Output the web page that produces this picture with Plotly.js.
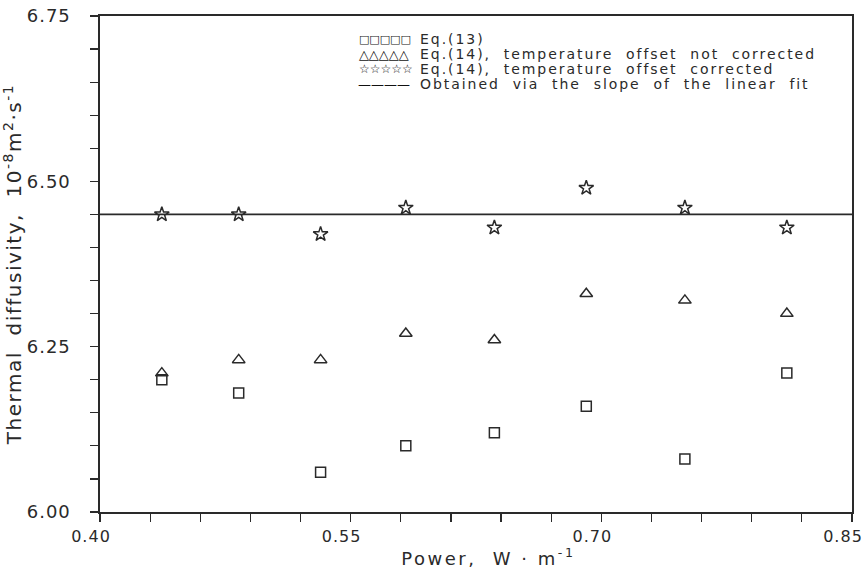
<!DOCTYPE html>
<html>
<head>
<meta charset="utf-8">
<script src="https://cdn.plot.ly/plotly-3.0.1.min.js"></script>
<style>
html,body{margin:0;padding:0;background:#fff;}
#chart{width:864px;height:569px;}
.xtick text, .ytick text { letter-spacing: 1px; }
.xtitle { letter-spacing: 2.5px; }
.ytitle { letter-spacing: 1.5px; }
.annotation-text { letter-spacing: 1.95px; }
g.annotation[data-index="0"] .annotation-text,
g.annotation[data-index="1"] .annotation-text,
g.annotation[data-index="2"] .annotation-text,
g.annotation[data-index="3"] .annotation-text { letter-spacing: 0px; }
</style>
</head>
<body>
<div id="chart"></div>
<script>
const power = [0.437, 0.483, 0.532, 0.583, 0.636, 0.691, 0.750, 0.811];
const eq13 = [6.20, 6.18, 6.06, 6.10, 6.12, 6.16, 6.08, 6.21];
const eq14NotCorrected = [6.21, 6.23, 6.23, 6.27, 6.26, 6.33, 6.32, 6.30];
const eq14Corrected = [6.45, 6.45, 6.42, 6.46, 6.43, 6.49, 6.46, 6.43];
const fitX = [0.40, 0.85];
const fitY = [6.45, 6.45];
const xTicks = [0.40, 0.55, 0.70, 0.85];
const yTicks = [6.00, 6.25, 6.50, 6.75];
const legendSymbols = ["□□□□□", "△△△△△", "☆☆☆☆☆", "————"];
const legendLabels = [
  "Eq.(13)",
  "Eq.(14),  temperature  offset  not  corrected",
  "Eq.(14),  temperature  offset  corrected",
  "Obtained  via  the  slope  of  the  linear  fit"
];

const ink = '#2a2a2a';
const font = 'DejaVu Sans, Liberation Sans, sans-serif';

const traces = [
  {x: fitX, y: fitY, mode: 'lines', line: {color: ink, width: 1.6}, name: legendLabels[3]},
  {x: power, y: eq13, mode: 'markers', name: legendLabels[0],
   marker: {symbol: 'square-open', size: 10, color: ink, line: {width: 1.5, color: ink}}},
  {x: power, y: eq14NotCorrected, mode: 'markers', name: legendLabels[1],
   marker: {symbol: 'triangle-up-open', size: 11, color: ink, line: {width: 1.5, color: ink}}},
  {x: power, y: eq14Corrected, mode: 'markers', name: legendLabels[2],
   marker: {symbol: 'star-open', size: 11, color: ink, line: {width: 1.5, color: ink}}}
];

const rowY = i => 1 - (39 + 15 * i - 16) / 496;
const symbolSizes = [11, 13, 12, 13];
const annotations = [];
legendSymbols.forEach((s, i) => annotations.push({
  text: s, xref: 'paper', yref: 'paper', x: (352 - 100) / 752, y: rowY(i),
  xanchor: 'left', yanchor: 'middle', showarrow: false,
  font: {family: font, size: symbolSizes[i], color: '#111'}
}));
legendLabels.forEach((t, i) => annotations.push({
  text: t, xref: 'paper', yref: 'paper', x: (418 - 100) / 752, y: rowY(i),
  xanchor: 'left', yanchor: 'middle', showarrow: false,
  font: {family: font, size: 14, color: ink}
}));

const layout = {
  width: 864, height: 569,
  margin: {l: 100, r: 12, t: 16, b: 57},
  paper_bgcolor: '#fff', plot_bgcolor: '#fff',
  showlegend: false,
  font: {family: font, size: 17, color: ink},
  xaxis: {
    range: [0.40, 0.85], tickmode: 'array', tickvals: xTicks, tickformat: '.2f',
    ticks: 'outside', ticklen: 8, tickwidth: 1.2, tickcolor: ink, ticklabelstandoff: 1,
    ticklabelshift: -9, ticklabeloverflow: 'allow',
    minor: {dtick: 0.03, tick0: 0.40, ticks: 'outside', ticklen: 8, tickwidth: 1.2, tickcolor: ink, showgrid: false},
    showline: true, linecolor: ink, linewidth: 1.6, mirror: true, showgrid: false, zeroline: false,
    tickfont: {size: 16, color: ink},
    title: {text: '&nbsp;&nbsp;&nbsp;Power,  W · m<sup>-1</sup>', font: {size: 18, color: ink}, standoff: 6}
  },
  yaxis: {
    range: [6.00, 6.75], tickmode: 'array', tickvals: yTicks, tickformat: '.2f',
    ticks: 'outside', ticklen: 8, tickwidth: 1.2, tickcolor: ink, ticklabelstandoff: 16,
    ticklabeloverflow: 'allow',
    minor: {dtick: 0.05, tick0: 6.00, ticks: 'outside', ticklen: 8, tickwidth: 1.2, tickcolor: ink, showgrid: false},
    showline: true, linecolor: ink, linewidth: 1.6, mirror: true, showgrid: false, zeroline: false,
    tickfont: {size: 18, color: ink},
    title: {text: 'Thermal  diffusivity,  10<sup>-8</sup>m<sup>2</sup>·s<sup>-1</sup>', font: {size: 20, color: ink}, standoff: 4}
  },
  annotations: annotations
};

Plotly.newPlot('chart', traces, layout, {displayModeBar: false, staticPlot: true});
</script>
</body>
</html>
